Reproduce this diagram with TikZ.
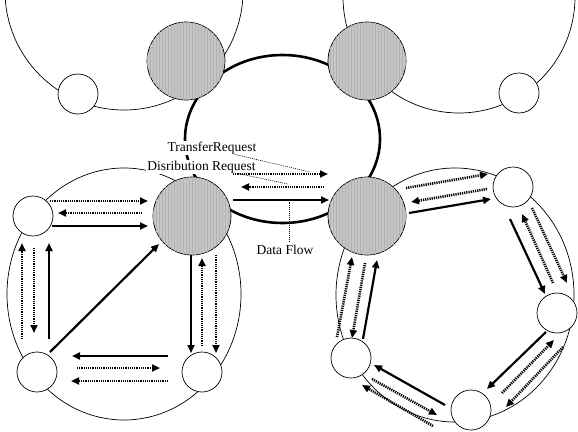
\documentclass[tikz,border=0pt]{standalone}
\usepackage{fontspec}
\setmainfont{Liberation Serif}
\usetikzlibrary{arrows.meta, positioning, calc, backgrounds, patterns}
\definecolor{hubGray}{RGB}{198,198,198}
\definecolor{hubLine}{RGB}{178,178,178}

\begin{document}
\begin{tikzpicture}[x=1pt, y=-1pt, font=\fontsize{13.5}{16}\selectfont,
    HUB/.style={circle, draw, line width=0.7pt, fill=hubGray, postaction={pattern=vertical lines, pattern color=hubLine}, minimum size=78pt, inner sep=0pt},
    PEER/.style={circle, draw, line width=0.7pt, fill=white, minimum size=40pt, inner sep=0pt},
    FLOW/.style={-{Triangle[length=8pt,width=7pt]}, line width=2.2pt},
    REQ/.style={-{Triangle[length=8pt,width=7pt]}, line width=2.6pt, dash pattern=on 1.2pt off 1pt},
    LEAD/.style={line width=0.6pt, dash pattern=on 1pt off 1pt},
    LBL/.style={fill=white, inner sep=1pt},
    RING/.style={line width=0.7pt}]
    \useasboundingbox (0,0) rectangle (578,431);

    \node[HUB] (sTL) at (186,61) {}; \node[HUB] (sTR) at (367,61) {};
    \node[HUB] (sL) at (192,216) {}; \node[HUB] (sR) at (367,216) {};
    \node[PEER] (nTL) at (78,94) {}; \node[PEER] (nTR) at (519,93) {};
    \node[PEER] (cA) at (33,216) {}; \node[PEER] (cB) at (37,372) {}; \node[PEER] (cC) at (202,372) {};
    \node[PEER] (p1) at (513,187) {}; \node[PEER] (p2) at (557,313) {};
    \node[PEER] (p3) at (471,410) {}; \node[PEER] (p4) at (351,358) {};

    \begin{scope}[on background layer]
        \draw[RING] (124,-9) circle (119pt); \draw[RING] (459,-3) circle (116pt);
        \draw[RING] (124,294) ellipse (117pt and 126pt); \draw[RING] (455,295) ellipse (119pt and 127pt);
        \draw[line width=2.6pt] (282.5,139) ellipse (97.5pt and 84pt);
    \end{scope}

    \node[LBL] (tr) at (212,148) {TransferRequest};
    \node[LBL] (dr) at (201.5,167) {Disribution Request};
    \node[LBL] (df) at (285,250) {Data Flow};
    \coordinate (trEnd) at (310,172); \coordinate (drEnd) at (288,184); \coordinate (dfEnd) at (289,202);
    \draw[LEAD] ($(tr.south east)+(-23,-1)$) -- (trEnd);
    \draw[LEAD] ($(dr.south east)+(-20,-1)$) -- (drEnd);
    \draw[LEAD] ($(df.north)+(4,-2)$) -- (dfEnd);

    \draw[REQ] ($(cA)+(17,-15)$) -- ($(sL)+(-44,-15)$); \draw[REQ] ($(sL)+(-50,-3)$) -- ($(cA)+(25,-3)$); \draw[FLOW] ($(cA)+(19,10)$) -- ($(sL)+(-44,10)$);
    \draw[REQ] ($(cB)+(-15,-33)$) -- ($(cA)+(-11,27)$); \draw[REQ] ($(cA)+(1,32)$) -- ($(cB)+(-3,-39)$); \draw[FLOW] ($(cB)+(12,-33)$) -- ($(cA)+(16,27)$);
    \draw[FLOW] ($(cB)+(13,-20)$) -- ($(sL)+(-33,28)$);
    \draw[FLOW] ($(sL)+(-1,39)$) -- ($(cC)+(-11,-19)$); \draw[REQ] ($(cC)+(0,-26)$) -- ($(sL)+(10,42)$); \draw[REQ] ($(sL)+(24,39)$) -- ($(cC)+(14,-19)$);
    \draw[FLOW] ($(cC)+(-34,-16)$) -- ($(cB)+(35,-16)$); \draw[REQ] ($(cB)+(40,-4)$) -- ($(cC)+(-42,-4)$); \draw[REQ] ($(cC)+(-34,9)$) -- ($(cB)+(34,9)$);

    \draw[REQ] ($(sL)+(41,-42)$) -- ($(sR)+(-39,-42)$); \draw[REQ] ($(sR)+(-43,-29)$) -- ($(sL)+(49,-29)$); \draw[FLOW] ($(sL)+(41,-16)$) -- ($(sR)+(-38,-16)$);

    \draw[REQ] ($(sR)+(39,-28)$) -- ($(p1)+(-25,-13)$); \draw[REQ] ($(p1)+(-26,2)$) -- ($(sR)+(44,-14)$); \draw[FLOW] ($(sR)+(42,-3)$) -- ($(p1)+(-22,12)$);
    \draw[FLOW] ($(p1)+(-3,32)$) -- ($(p2)+(-12,-19)$); \draw[REQ] ($(p2)+(-4,-30)$) -- ($(p1)+(9,27)$); \draw[REQ] ($(p1)+(19,21)$) -- ($(p2)+(10,-30)$);
    \draw[FLOW] ($(p2)+(-11,19)$) -- ($(p3)+(16,-21)$); \draw[REQ] ($(p3)+(31,-17)$) -- ($(p2)+(-3,27)$); \draw[REQ] ($(p2)+(6,34)$) -- ($(p3)+(35,-3)$);
    \draw[FLOW] ($(p3)+(-26,-5)$) -- ($(p4)+(23,7)$); \draw[REQ] ($(p4)+(21,21)$) -- ($(p3)+(-34,5)$); \draw[REQ] ($(p3)+(-38,16)$) -- ($(p4)+(11,27)$);
    \draw[FLOW] ($(p4)+(12,-19)$) -- ($(sR)+(10,44)$); \draw[REQ] ($(p4)+(-14,-21)$) -- ($(sR)+(-15,41)$); \draw[REQ] ($(sR)+(-2,47)$) -- ($(p4)+(1,-20)$);
\end{tikzpicture}
\end{document}
